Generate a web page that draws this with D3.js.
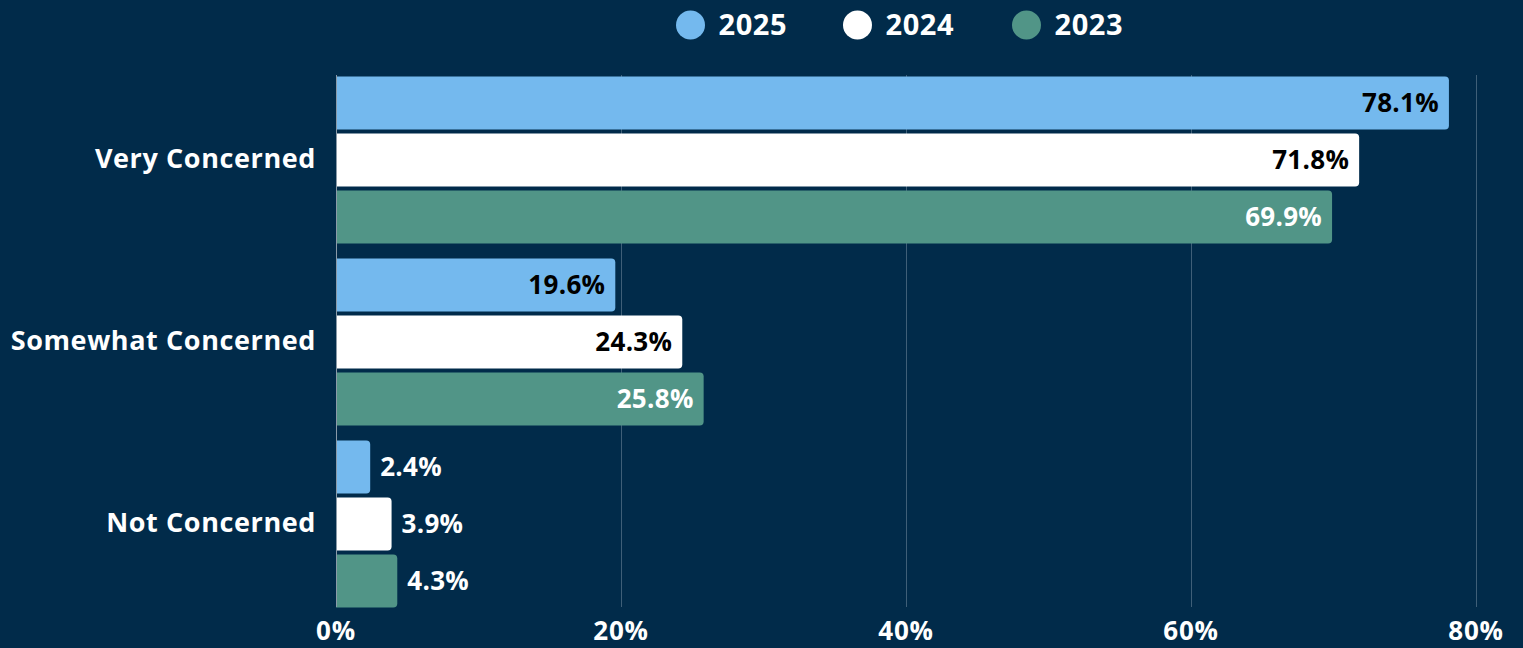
<!DOCTYPE html>
<meta charset="utf-8">
<style>
    body {
        margin: 0;
        background: #012b4a;
    }

    text {
        font-family: "Open Sans", sans-serif;
        font-weight: 700;
    }

    .grid line {
        stroke: #3f5f78;
        stroke-width: 1px;
    }
</style>
<svg width="1523" height="648"></svg>
<script src="https://d3js.org/d3.v7.min.js"></script>
<script>

    var categories = ["Very Concerned", "Somewhat Concerned", "Not Concerned"];
    var years = ["2025", "2024", "2023"];
    var values2025 = [78.1, 19.6, 2.4];
    var values2024 = [71.8, 24.3, 3.9];
    var values2023 = [69.9, 25.8, 4.3];
    var ticks = [0, 20, 40, 60, 80];

    var series = {"2025": values2025, "2024": values2024, "2023": values2023};
    var color = d3.scaleOrdinal().domain(years).range(["#74b9ee", "#ffffff", "#519587"]);
    var labelColor = {"2025": "#000000", "2024": "#000000", "2023": "#ffffff"};

    var svg = d3.select("svg"),
        width = +svg.attr("width"),
        height = +svg.attr("height");

    svg.append("rect")
        .attr("width", width)
        .attr("height", height)
        .attr("fill", "#012b4a");

    var x = d3.scaleLinear().domain([0, 80]).range([336, 1476]);

    var y = d3.scaleBand()
        .domain(categories)
        .range([69, 615])
        .paddingInner(15 / 182)
        .paddingOuter(15 / 364);

    var y1 = d3.scaleBand()
        .domain(years)
        .range([0, y.bandwidth()])
        .paddingInner(0.07);

    // grid
    svg.append("g")
        .attr("class", "grid")
        .selectAll("line")
        .data(ticks)
        .enter().append("line")
        .attr("x1", function (d) { return x(d) + 0.5; })
        .attr("x2", function (d) { return x(d) + 0.5; })
        .attr("y1", 75)
        .attr("y2", 607);

    // axis labels
    svg.append("g")
        .selectAll("text")
        .data(ticks)
        .enter().append("text")
        .attr("x", function (d) { return x(d); })
        .attr("y", 640)
        .attr("text-anchor", "middle")
        .attr("fill", "#ffffff")
        .style("font-size", "26px")
        .style("letter-spacing", "0.8px")
        .text(function (d) { return d + "%"; });

    // category labels
    svg.append("g")
        .selectAll("text")
        .data(categories)
        .enter().append("text")
        .attr("x", 316)
        .attr("y", function (d) { return y(d) + y.bandwidth() / 2; })
        .attr("dy", "0.3em")
        .attr("text-anchor", "end")
        .attr("fill", "#ffffff")
        .style("font-size", "27px")
        .style("letter-spacing", "0.6px")
        .text(function (d) { return d; });

    // rounded right end only
    function barPath(x0, y0, w, h, r) {
        r = Math.min(r, w);
        return "M" + x0 + "," + y0 +
            "H" + (x0 + w - r) +
            "Q" + (x0 + w) + "," + y0 + " " + (x0 + w) + "," + (y0 + r) +
            "V" + (y0 + h - r) +
            "Q" + (x0 + w) + "," + (y0 + h) + " " + (x0 + w - r) + "," + (y0 + h) +
            "H" + x0 + "Z";
    }

    var rows = [];
    categories.forEach(function (c, i) {
        years.forEach(function (yr) {
            rows.push({cat: c, year: yr, value: series[yr][i]});
        });
    });

    var bar = svg.append("g")
        .selectAll("g")
        .data(rows)
        .enter().append("g")
        .attr("transform", function (d) {
            return "translate(0," + (y(d.cat) + y1(d.year)) + ")";
        });

    bar.append("path")
        .attr("fill", function (d) { return color(d.year); })
        .attr("d", function (d) {
            return barPath(x(0), 0, x(d.value) - x(0), y1.bandwidth(), 4);
        });

    bar.append("text")
        .attr("x", function (d) {
            return d.value > 10 ? x(d.value) - 10 : x(d.value) + 10;
        })
        .attr("y", y1.bandwidth() / 2)
        .attr("dy", "0.36em")
        .attr("text-anchor", function (d) { return d.value > 10 ? "end" : "start"; })
        .attr("fill", function (d) { return d.value > 10 ? labelColor[d.year] : "#ffffff"; })
        .style("font-size", "26px")
        .style("letter-spacing", "0.3px")
        .text(function (d) { return d.value.toFixed(1) + "%"; });

    // baseline
    svg.append("line")
        .attr("x1", x(0) + 0.5)
        .attr("x2", x(0) + 0.5)
        .attr("y1", 75)
        .attr("y2", 607)
        .attr("stroke", "#8a9aa8")
        .attr("stroke-width", 1);

    // legend
    var legendX = [690.5, 857.5, 1026.5];
    var legend = svg.append("g")
        .selectAll("g")
        .data(years)
        .enter().append("g")
        .attr("transform", function (d, i) { return "translate(" + legendX[i] + ",25)"; });

    legend.append("circle")
        .attr("r", 14.5)
        .attr("fill", function (d) { return color(d); });

    legend.append("text")
        .attr("x", 28)
        .attr("dy", "0.36em")
        .attr("fill", "#ffffff")
        .style("font-size", "29px")
        .style("letter-spacing", "0.6px")
        .text(function (d) { return d; });

</script>
